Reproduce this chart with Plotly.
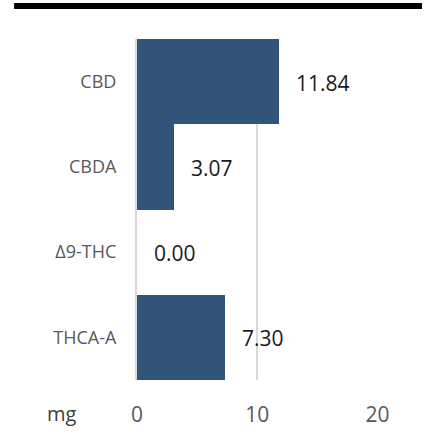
import plotly.graph_objects as go

categories = ["CBD", "CBDA", "Δ9-THC", "THCA-A"]
values = [11.84, 3.07, 0.00, 7.30]
value_labels = ["11.84", "3.07", "0.00", "7.30"]
x_ticks = [0, 10, 20]
unit_label = "mg"

BAR = "#325479"
FONT = "Open Sans"

W, H = 427, 440
S = H / 434.0          # vertical compensation
L, R = 137, 49
T = 38 * S
B = H - 379 * S

fig = go.Figure()
fig.add_trace(go.Bar(
    x=values, y=categories, orientation="h",
    marker=dict(color=BAR, line=dict(width=0)),
    hoverinfo="skip",
))

for c, v, t in zip(categories, values, value_labels):
    fig.add_annotation(x=v, y=c, text=t, showarrow=False, xanchor="left", yanchor="middle",
                       xshift=15, yshift=-1, font=dict(family=FONT, size=21, color="#1a1a1a"))

fig.add_annotation(x=-0.311, y=-0.097, xref="paper", yref="paper", text=unit_label,
                   xanchor="center", yanchor="middle",
                   showarrow=False, font=dict(family=FONT, size=20, color="#404040"))

fig.add_shape(type="rect", xref="paper", yref="paper",
              x0=-0.510, x1=1.1826, y0=1.088, y1=1.1056,
              fillcolor="black", line=dict(width=0))

fig.update_layout(
    width=W, height=H,
    margin=dict(l=L, r=R, t=T, b=B, pad=0),
    paper_bgcolor="white", plot_bgcolor="white",
    showlegend=False, bargap=0,
    xaxis=dict(range=[0, 20.05], tickvals=x_ticks, showgrid=True, gridcolor="#d9d9d9",
               gridwidth=1.5, zeroline=False, showline=False,
               tickfont=dict(family=FONT, size=21, color="#595959"),
               ticks="", ticklabelstandoff=20, fixedrange=True),
    yaxis=dict(categoryorder="array", categoryarray=categories, autorange="reversed",
               showgrid=False, showline=True, linecolor="#d9d9d9", linewidth=2,
               tickfont=dict(family=FONT, size=18, color="#595959"),
               ticks="", ticklabelstandoff=15, fixedrange=True),
)

fig.write_html("out.html", config={"displayModeBar": False},
               post_script="document.body.style.margin='0';document.body.style.overflow='hidden';")
